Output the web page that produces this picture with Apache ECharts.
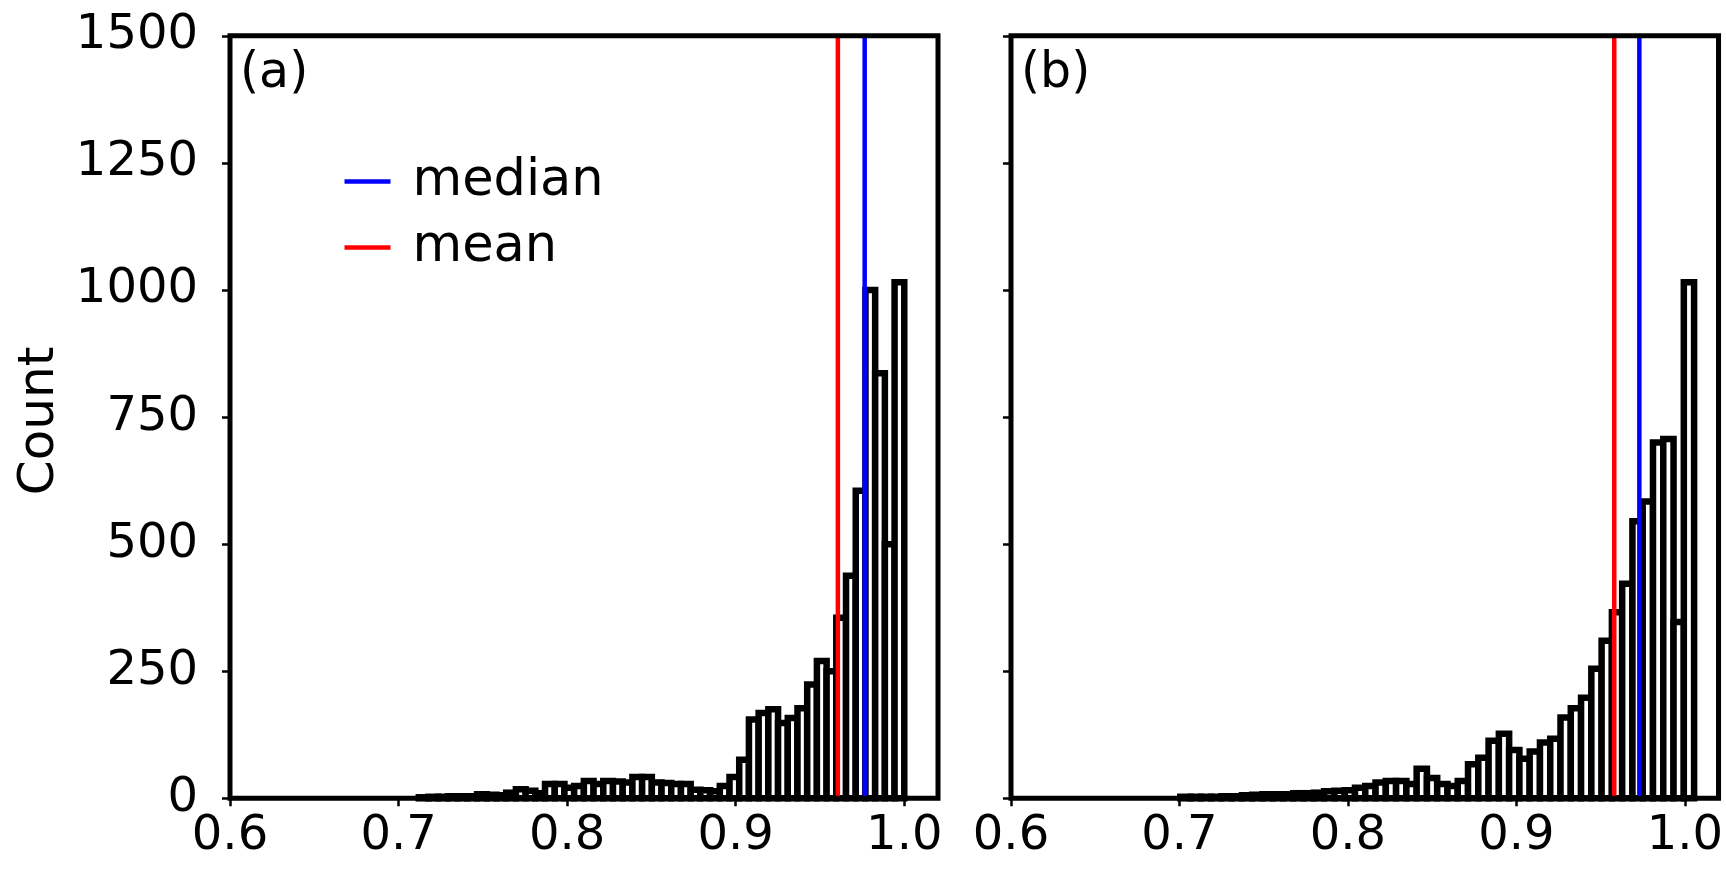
<!DOCTYPE html>
<html><head><meta charset="utf-8">
<script src="https://cdn.jsdelivr.net/npm/echarts@6/dist/echarts.min.js"></script>
<style>html,body{margin:0;padding:0;background:#fff}#c{width:1726px;height:871px}</style>
</head><body><div id="c"></div>
<script>
// ---- data ----
const binStartA = 0.712, binWidthA = 0.00576;
const countsA = [2,3,3,4,4,4,8,7,6,11,
                 18,15,10,28,28,21,24,34,28,34,
                 33,31,42,42,31,30,28,28,17,16,
                 14,24,42,76,155,168,175,148,158,177,
                 224,270,250,355,438,605,1000,836,500,1015];
const binStartB = 0.7005, binWidthB = 0.0061;
const countsB = [3,3,3,3,4,4,6,7,8,8,
                 8,10,10,11,14,15,16,21,24,31,
                 34,34,28,58,40,28,24,34,67,80,
                 113,127,95,78,92,110,117,159,177,198,
                 255,310,366,422,545,584,700,707,347,1015];
const medianA = 0.9765, meanA = 0.9606;
const medianB = 0.973, meanB = 0.9581;
const xTickValues = [0.6, 0.7, 0.8, 0.9, 1.0];
const yTickValues = [0, 250, 500, 750, 1000, 1250, 1500];
const panelLabels = ['(a)', '(b)'];

const FONT = 'DejaVu Sans';
function bins(start, w, counts) {
  return counts.map((c, i) => [start + i * w, start + (i + 1) * w, c]);
}
function histSeries(idx, data) {
  return {
    type: 'custom', xAxisIndex: idx, yAxisIndex: idx, z: 2,
    data: data, encode: {x: [0, 1], y: 2},
    renderItem: function (params, api) {
      const p0 = api.coord([api.value(0), api.value(2)]);
      const p1 = api.coord([api.value(1), 0]);
      return {type: 'rect',
        shape: {x: p0[0], y: p0[1], width: p1[0] - p0[0], height: p1[1] - p0[1]},
        style: {fill: '#fff', stroke: '#000', lineWidth: 6.5}};
    }
  };
}
function vline(idx, name, x, color) {
  return {type: 'line', name: name, xAxisIndex: idx, yAxisIndex: idx, z: 3,
    data: [[x, yTickValues[0]], [x, yTickValues[yTickValues.length - 1]]],
    symbol: 'none', showSymbol: false, lineStyle: {color: color, width: 4.5}, itemStyle: {color: color},
    animation: false};
}
function xAxis(idx) {
  return {type: 'value', gridIndex: idx, min: 0.6, max: 1.02, interval: 0.1,
    axisLine: {show: false}, splitLine: {show: false},
    axisTick: {show: true, length: 8, lineStyle: {color: '#000', width: 2.5}, customValues: xTickValues},
    axisLabel: {show: true, customValues: xTickValues, margin: 14,
      fontFamily: FONT, fontSize: 48, color: '#000',
      formatter: v => v.toFixed(1)}};
}
function yAxis(idx) {
  return {type: 'value', gridIndex: idx, min: 0, max: 1500, interval: 250,
    axisLine: {show: false}, splitLine: {show: false},
    axisTick: {show: true, length: 8, lineStyle: {color: '#000', width: 2.5}, customValues: yTickValues},
    axisLabel: {show: idx === 0, customValues: yTickValues, margin: 32, fontFamily: FONT, fontSize: 48, color: '#000',
      formatter: v => String(v)}};
}
const grids = [
  {left: 230, top: 35.8, width: 708, height: 762.5},
  {left: 1011, top: 35.8, width: 708, height: 762.5}
].map(g => Object.assign(g, {show: true, borderColor: '#000', borderWidth: 5,
  backgroundColor: 'transparent', containLabel: false, z: 10}));

const chart = echarts.init(document.getElementById('c'), null, {renderer: 'canvas'});
chart.setOption({
  animation: false,
  backgroundColor: '#fff',
  grid: grids,
  xAxis: [xAxis(0), xAxis(1)],
  yAxis: [yAxis(0), yAxis(1)],
  legend: {
    data: ['median', 'mean'], orient: 'vertical', left: 344.5, top: 156, padding: 0,
    icon: 'rect', itemWidth: 46, itemHeight: 4.5, itemGap: 15,
    textStyle: {fontFamily: FONT, fontSize: 51, color: '#000', padding: [0, 0, 0, 17]},
    selectedMode: false
  },
  series: [
    histSeries(0, bins(binStartA, binWidthA, countsA)),
    histSeries(1, bins(binStartB, binWidthB, countsB)),
    vline(0, 'median', medianA, '#0000ff'),
    vline(0, 'mean', meanA, '#ff0000'),
    vline(1, 'median', medianB, '#0000ff'),
    vline(1, 'mean', meanB, '#ff0000')
  ],
  graphic: [
    {type: 'text', x: 240, y: 50, z: 20, style: {text: panelLabels[0], font: '49px "DejaVu Sans"', fill: '#000'}},
    {type: 'text', x: 1021, y: 50, z: 20, style: {text: panelLabels[1], font: '49px "DejaVu Sans"', fill: '#000'}},
    {type: 'text', x: 40, y: 421, rotation: Math.PI / 2, z: 20,
      style: {text: 'Count', font: '50px "DejaVu Sans"', fill: '#000', align: 'center', verticalAlign: 'middle'}}
  ]
});
</script></body></html>
